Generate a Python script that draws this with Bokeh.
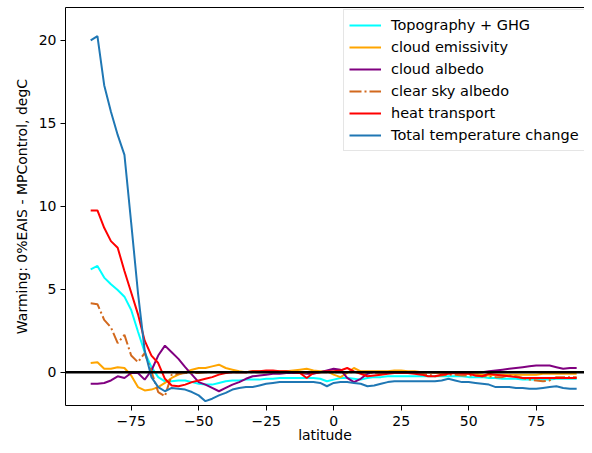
from bokeh.plotting import figure
from bokeh.models import (Span, Legend, LegendItem, LinearAxis, FixedTicker, Range1d)
from bokeh.embed import file_html
from bokeh.resources import INLINE

LAT = [-90.0, -87.5, -85.0, -82.5, -80.0, -77.5, -75.0, -72.5,
       -70.0, -67.5, -65.0, -62.5, -60.0, -57.5, -55.0, -52.5,
       -50.0, -47.5, -45.0, -42.5, -40.0, -37.5, -35.0, -32.5,
       -30.0, -27.5, -25.0, -22.5, -20.0, -17.5, -15.0, -12.5,
       -10.0, -7.5, -5.0, -2.5, 0.0, 2.5, 5.0, 7.5,
       10.0, 12.5, 15.0, 17.5, 20.0, 22.5, 25.0, 27.5,
       30.0, 32.5, 35.0, 37.5, 40.0, 42.5, 45.0, 47.5,
       50.0, 52.5, 55.0, 57.5, 60.0, 62.5, 65.0, 67.5,
       70.0, 72.5, 75.0, 77.5, 80.0, 82.5, 85.0, 87.5,
       90.0]

TOPO_GHG = [6.2, 6.4, 5.7, 5.3, 4.95, 4.55, 3.75, 2.45,
            1.2, 0.3, -0.3, -0.55, -0.55, -0.5, -0.5, -0.6,
            -0.7, -0.75, -0.75, -0.65, -0.55, -0.5, -0.5, -0.45,
            -0.45, -0.45, -0.4, -0.4, -0.35, -0.35, -0.35, -0.35,
            -0.35, -0.35, -0.4, -0.55, -0.45, -0.35, -0.35, -0.4,
            -0.45, -0.35, -0.3, -0.3, -0.25, -0.25, -0.25, -0.25,
            -0.25, -0.25, -0.25, -0.25, -0.25, -0.25, -0.25, -0.25,
            -0.3, -0.3, -0.3, -0.35, -0.35, -0.4, -0.4, -0.4,
            -0.45, -0.45, -0.45, -0.45, -0.45, -0.4, -0.4, -0.4,
            -0.4]

CLOUD_EMIS = [0.55, 0.6, 0.2, 0.2, 0.3, 0.25, -0.2, -0.9,
              -1.1, -1.05, -0.9, -0.65, -0.35, -0.15, 0.0, 0.15,
              0.25, 0.25, 0.35, 0.45, 0.25, 0.15, 0.05, 0.0,
              0.05, 0.05, 0.05, 0.05, 0.05, 0.05, 0.1, 0.15,
              0.2, 0.1, 0.05, 0.05, -0.15, -0.3, -0.05, 0.25,
              0.05, 0.05, 0.05, 0.05, 0.05, 0.1, 0.1, 0.05,
              0.05, 0.0, 0.0, -0.05, -0.05, -0.05, -0.05, -0.05,
              -0.1, -0.1, -0.15, -0.2, -0.15, -0.15, -0.15, -0.15,
              -0.15, -0.15, -0.15, -0.1, -0.1, -0.1, -0.1, -0.1,
              -0.1]

CLOUD_ALB = [-0.7, -0.7, -0.65, -0.5, -0.25, -0.35, -0.05, -0.05,
             -0.45, 0.1, 1.0, 1.6, 1.2, 0.8, 0.3, -0.15,
             -0.6, -0.75, -0.95, -1.15, -0.95, -0.75, -0.6, -0.4,
             -0.25, -0.2, -0.15, -0.1, -0.1, -0.05, -0.05, -0.05,
             -0.1, -0.1, 0.0, 0.1, 0.2, 0.15, -0.35, -0.6,
             -0.4, -0.1, 0.0, 0.0, 0.0, 0.0, 0.0, 0.0,
             0.0, 0.0, 0.0, 0.0, 0.0, 0.0, 0.0, 0.0,
             0.0, 0.0, 0.0, 0.05, 0.1, 0.15, 0.2, 0.25,
             0.3, 0.35, 0.4, 0.4, 0.4, 0.3, 0.2, 0.25,
             0.25]

CLEAR_SKY = [4.15, 4.1, 3.15, 2.7, 1.75, 2.25, 1.0, 0.6,
             1.15, 0.05, -1.2, -1.45, -0.15, -0.1, -0.05, -0.05,
             -0.05, 0.0, 0.0, 0.0, 0.0, 0.0, 0.0, 0.0,
             0.0, 0.0, 0.0, 0.0, 0.0, 0.0, 0.0, 0.0,
             -0.05, -0.05, 0.0, 0.0, 0.0, 0.0, 0.0, 0.0,
             0.0, -0.05, -0.05, -0.05, -0.05, -0.05, -0.05, -0.05,
             -0.05, -0.1, -0.15, -0.25, -0.2, -0.15, -0.15, -0.2,
             -0.2, -0.2, -0.25, -0.25, -0.3, -0.3, -0.2, -0.25,
             -0.35, -0.45, -0.5, -0.55, -0.5, -0.3, -0.3, -0.3,
             -0.3]

HEAT = [9.75, 9.75, 8.7, 7.9, 7.5, 6.1, 4.8, 3.5,
        1.9, 1.0, 0.55, -0.4, -0.8, -0.85, -0.75, -0.6,
        -0.5, -0.4, -0.3, -0.15, -0.05, 0.0, 0.0, 0.0,
        0.05, 0.05, 0.1, 0.1, 0.05, 0.05, 0.0, -0.05,
        -0.35, -0.05, 0.0, 0.05, 0.05, 0.1, 0.25, 0.05,
        -0.1, -0.25, -0.2, -0.15, -0.1, -0.05, -0.05, -0.05,
        -0.1, -0.15, -0.25, -0.25, -0.15, -0.1, -0.05, -0.1,
        -0.1, -0.2, -0.25, -0.1, -0.15, -0.2, -0.25, -0.3,
        -0.35, -0.35, -0.35, -0.35, -0.35, -0.35, -0.35, -0.35,
        -0.35]

TOTAL = [20.0, 20.25, 17.3, 15.7, 14.3, 13.1, 9.0, 4.8,
         1.3, -0.3, -0.9, -1.15, -0.95, -1.0, -1.05, -1.2,
         -1.4, -1.75, -1.6, -1.4, -1.25, -1.05, -0.95, -0.9,
         -0.9, -0.8, -0.7, -0.65, -0.6, -0.6, -0.6, -0.6,
         -0.6, -0.6, -0.65, -0.85, -0.65, -0.6, -0.6, -0.65,
         -0.7, -0.85, -0.8, -0.7, -0.6, -0.55, -0.55, -0.55,
         -0.55, -0.55, -0.55, -0.55, -0.5, -0.4, -0.5, -0.6,
         -0.6, -0.65, -0.7, -0.75, -0.9, -0.9, -0.9, -0.95,
         -0.95, -1.0, -1.0, -0.95, -0.9, -0.85, -0.95, -1.0,
         -1.0]

SERIES = [
    ("Topography + GHG", TOPO_GHG, "cyan", "solid"),
    ("cloud emissivity", CLOUD_EMIS, "orange", "solid"),
    ("cloud albedo", CLOUD_ALB, "purple", "solid"),
    ("clear sky albedo", CLEAR_SKY, "chocolate", "12 3 2 3"),
    ("heat transport", HEAT, "red", "solid"),
    ("Total temperature change", TOTAL, "#1f77b4", "solid"),
]

X_TICKS = [-75, -50, -25, 0, 25, 50, 75]
X_TICK_LABELS = {-75: "\u221275", -50: "\u221250", -25: "\u221225", 0: "0",
                 25: "25", 50: "50", 75: "75"}
Y_TICKS = [0, 5, 10, 15, 20]

X_LABEL = "latitude"
Y_LABEL = "Warming: 0%EAIS - MPControl, degC"

FONT = "DejaVu Sans"

p = figure(width=584, height=445, output_backend="svg", toolbar_location=None,
           x_range=Range1d(-99.33, 92.9), y_range=Range1d(-2.01, 21.98),
           min_border_left=65, min_border_right=0, min_border_top=7,
           min_border_bottom=39)
p.outline_line_color = None
p.xgrid.visible = False
p.ygrid.visible = False
p.background_fill_color = "white"
p.border_fill_color = "white"

for ax in (p.xaxis[0], p.yaxis[0]):
    ax.axis_line_color = "black"
    ax.axis_line_width = 1
    ax.major_tick_line_color = "black"
    ax.major_tick_out = 5
    ax.major_tick_in = 0
    ax.minor_tick_line_color = None
    ax.major_label_text_font = FONT
    ax.major_label_text_font_size = "14px"
    ax.major_label_text_color = "black"
    ax.axis_label_text_font = FONT
    ax.axis_label_text_font_size = "14px"
    ax.axis_label_text_font_style = "normal"
    ax.axis_label_text_color = "black"

p.xaxis[0].ticker = FixedTicker(ticks=X_TICKS)
p.xaxis[0].major_label_overrides = X_TICK_LABELS
p.xaxis[0].axis_label = X_LABEL
p.xaxis[0].major_label_standoff = 5
p.xaxis[0].axis_label_standoff = -2
p.yaxis[0].ticker = FixedTicker(ticks=Y_TICKS)
p.yaxis[0].axis_label = Y_LABEL
p.yaxis[0].major_label_standoff = 4
p.yaxis[0].axis_label_standoff = 6

top = LinearAxis(ticker=FixedTicker(ticks=[]), major_tick_out=0, major_tick_in=0,
                 minor_tick_out=0, minor_tick_in=0, major_label_text_font_size="0px",
                 axis_line_color="black", axis_line_width=1, major_label_standoff=0)
p.add_layout(top, "above")

items = []
for label, vals, color, dash in SERIES:
    r = p.line(LAT, vals, line_color=color, line_width=2, line_dash=dash)
    items.append(LegendItem(label=label, renderers=[r]))

p.add_layout(Span(location=0, dimension="width", line_color="black", line_width=2.5))

legend = Legend(items=items, location=(278, 254), orientation="vertical",
                glyph_width=32, glyph_height=20, label_height=20, spacing=2,
                padding=5, margin=0, label_standoff=10,
                label_text_font=FONT, label_text_font_size="14.5px",
                label_text_color="black",
                border_line_color="#cccccc", border_line_width=1,
                background_fill_color="white", background_fill_alpha=0.8)
p.add_layout(legend)

open("out.html", "w").write(file_html(p, INLINE))
